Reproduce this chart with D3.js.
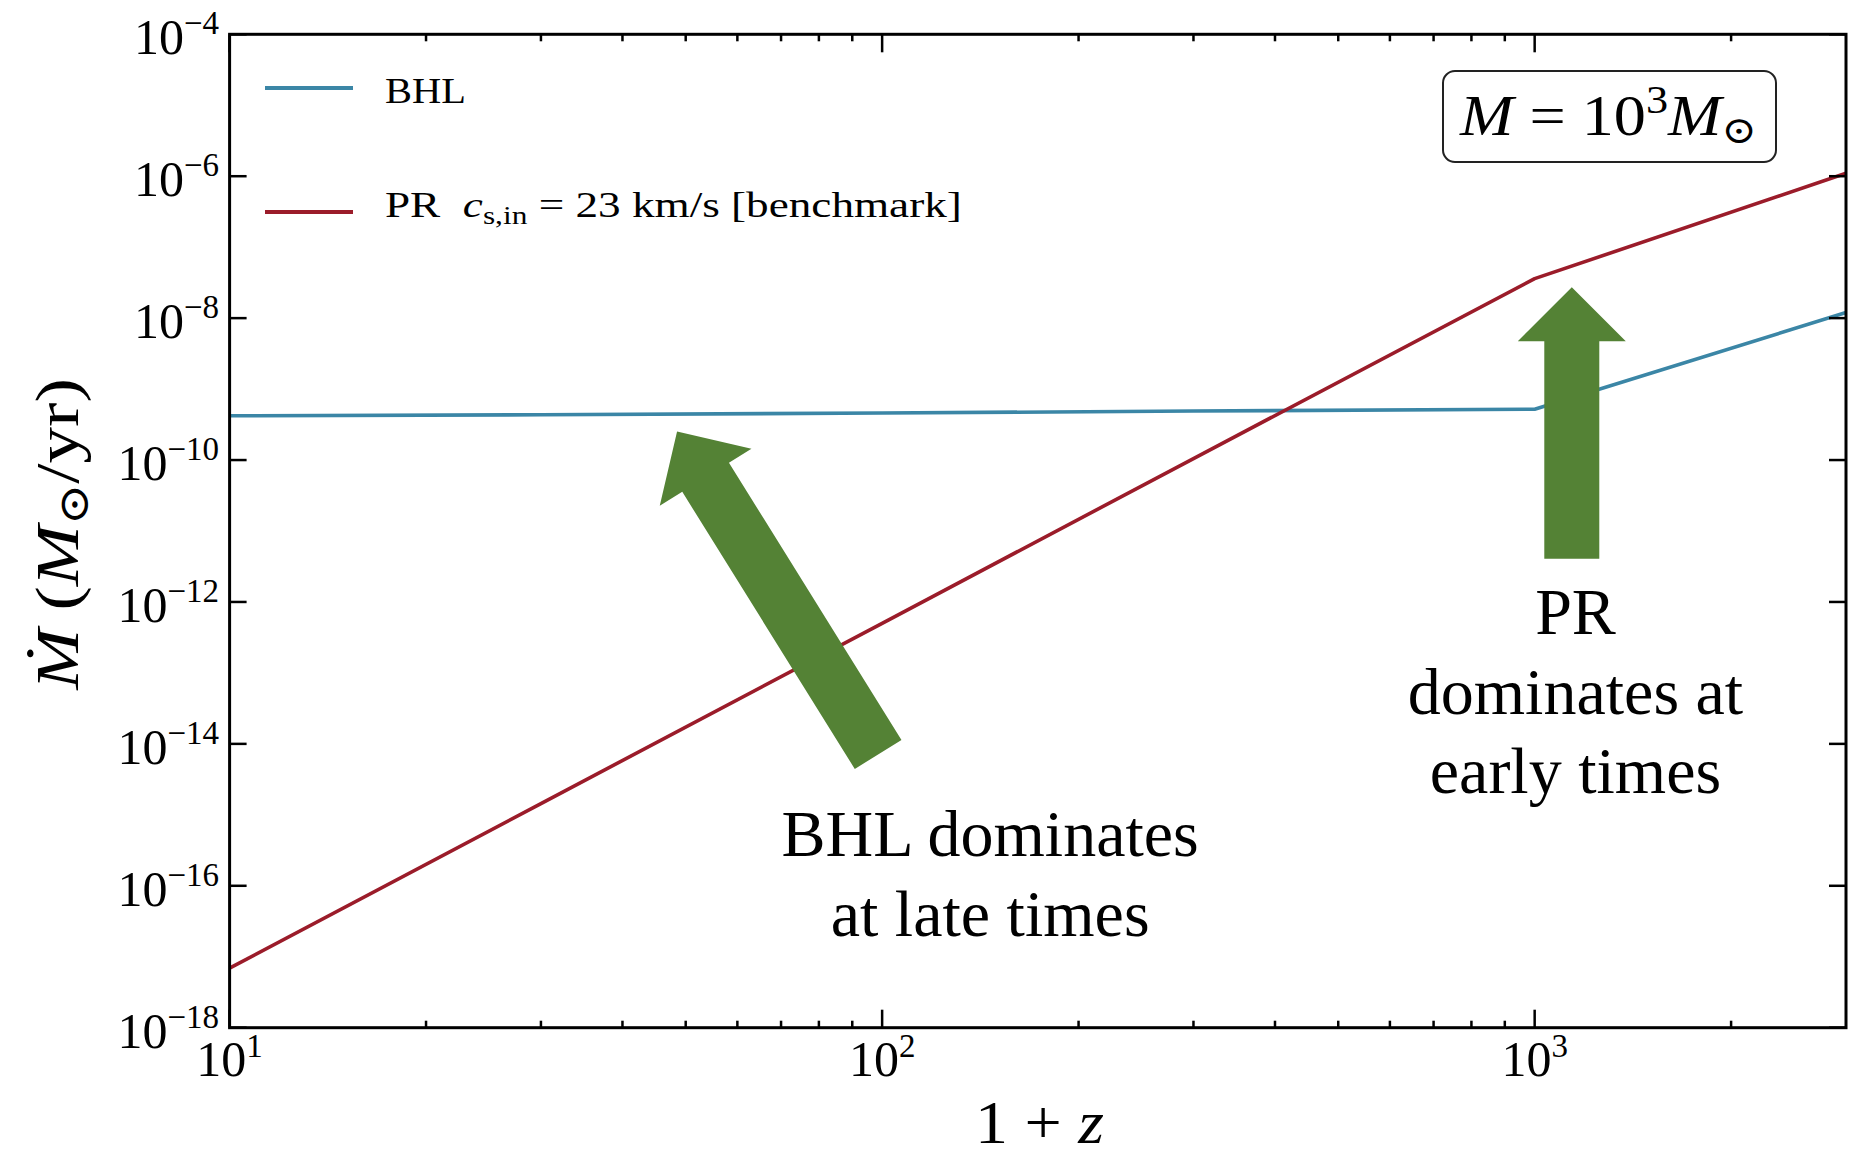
<!DOCTYPE html>
<html>
<head>
<meta charset="utf-8">
<script src="https://cdn.jsdelivr.net/npm/d3@7"></script>
<style>
  html, body { margin: 0; padding: 0; background: #ffffff; }
  svg { display: block; }
  text { font-family: "Liberation Serif", "DejaVu Serif", serif; fill: #000; }
</style>
</head>
<body>
<svg id="chart" width="1857" height="1160"></svg>
<script>
// ---------------- data ----------------
const zPlus1   = [10, 30, 100, 300, 1000, 3000];
const bhlRate  = [4.2e-10, 4.35e-10, 4.6e-10, 4.9e-10, 5.2e-10, 1.2e-8];
const prRate   = [6.9e-18, 1.44e-15, 5.0e-13, 1.05e-10, 3.6e-8, 1.1e-6];
const seriesNames  = ["BHL", "PR"];
const seriesColors = ["#3b86a6", "#9b1c2a"];
const xDomain = [10, 3000];
const yDomain = [1e-18, 1e-4];
const xTickExponents = [1, 2, 3];
const yTickExponents = [-4, -6, -8, -10, -12, -14, -16, -18];
// annotation arrows: [tail x, tail y] -> [tip x, tip y] in data units
const arrowTails = [[98.6, 7.1e-15], [1140, 4.08e-12]];
const arrowTips  = [[48.5, 2.53e-10], [1140, 2.73e-8]];
const annotLines = [["BHL dominates", "at late times"], ["PR", "dominates at", "early times"]];
const annotAnchors = [[146.4, 2.6e-16], [1155, 3.53e-13]];

// ---------------- layout ----------------
const L = 229.6, R = 1846, T = 34.3, B = 1027.7;
const svg = d3.select("#chart");
const x = d3.scaleLog().domain(xDomain).range([L, R]);
const y = d3.scaleLog().domain(yDomain).range([B, T]);

function fit(sel, ax, target) {
  const w = sel.node().getBBox().width;
  const k = target / w;
  const prev = sel.attr("transform") || "";
  sel.attr("transform", `${prev} translate(${ax},0) scale(${k},1) translate(${-ax},0)`);
}

// ---------------- lines ----------------
const line = d3.line().x(d => x(d[0])).y(d => y(d[1]));
const seriesData = [bhlRate, prRate];
seriesData.forEach((vals, i) => {
  svg.append("path")
    .datum(zPlus1.map((z, j) => [z, vals[j]]))
    .attr("d", line)
    .attr("fill", "none")
    .attr("stroke", seriesColors[i])
    .attr("stroke-width", 3.6)
    .attr("stroke-linejoin", "round");
});

// ---------------- arrows ----------------
const shaftW = 55, headW = 108, headL = 54;
arrowTails.forEach((tail, i) => {
  const tx = x(tail[0]), ty = y(tail[1]);
  const px = x(arrowTips[i][0]), py = y(arrowTips[i][1]);
  const len = Math.hypot(px - tx, py - ty);
  const ux = (px - tx) / len, uy = (py - ty) / len;
  const nx = -uy, ny = ux;
  const bx = px - ux * headL, by = py - uy * headL;
  const pts = [
    [tx + nx * shaftW / 2, ty + ny * shaftW / 2],
    [bx + nx * shaftW / 2, by + ny * shaftW / 2],
    [bx + nx * headW / 2, by + ny * headW / 2],
    [px, py],
    [bx - nx * headW / 2, by - ny * headW / 2],
    [bx - nx * shaftW / 2, by - ny * shaftW / 2],
    [tx - nx * shaftW / 2, ty - ny * shaftW / 2]
  ];
  svg.append("polygon")
    .attr("points", pts.map(p => p.join(",")).join(" "))
    .attr("fill", "#548235");
});

// ---------------- annotation text ----------------
annotLines.forEach((lines, i) => {
  const cx = x(annotAnchors[i][0]), cy = y(annotAnchors[i][1]);
  lines.forEach((s, j) => {
    svg.append("text")
      .attr("x", cx).attr("y", cy + j * 79.5)
      .attr("text-anchor", "middle")
      .style("font-family", "'Liberation Serif', serif")
      .style("font-size", "66px")
      .text(s);
  });
});

// ---------------- axes frame & ticks ----------------
svg.append("rect")
  .attr("x", L).attr("y", T).attr("width", R - L).attr("height", B - T)
  .attr("fill", "none").attr("stroke", "#000").attr("stroke-width", 3);

const majorX = xTickExponents.map(e => Math.pow(10, e));
const minorX = x.ticks().filter(v => {
  const e = Math.log10(v);
  return Math.abs(e - Math.round(e)) > 1e-9 && v < xDomain[1];
});
const tickG = svg.append("g").attr("stroke", "#000").attr("stroke-width", 2.5);
majorX.forEach(v => {
  tickG.append("line").attr("x1", x(v)).attr("x2", x(v)).attr("y1", B).attr("y2", B - 18);
  tickG.append("line").attr("x1", x(v)).attr("x2", x(v)).attr("y1", T).attr("y2", T + 18);
});
minorX.forEach(v => {
  tickG.append("line").attr("x1", x(v)).attr("x2", x(v)).attr("y1", B).attr("y2", B - 7);
  tickG.append("line").attr("x1", x(v)).attr("x2", x(v)).attr("y1", T).attr("y2", T + 7);
});
yTickExponents.forEach(e => {
  const yy = y(Math.pow(10, e));
  tickG.append("line").attr("x1", L).attr("x2", L + 17).attr("y1", yy).attr("y2", yy);
  tickG.append("line").attr("x1", R).attr("x2", R - 17).attr("y1", yy).attr("y2", yy);
});

// tick labels
yTickExponents.forEach(e => {
  const yy = y(Math.pow(10, e));
  const t = svg.append("text")
    .attr("x", 219).attr("y", yy + 20)
    .attr("text-anchor", "end")
    .style("font-size", "50px");
  t.append("tspan").text("10");
  t.append("tspan").attr("dy", -20).style("font-size", "33px").text("\u2212" + Math.abs(e));
});
xTickExponents.forEach(e => {
  const xx = x(Math.pow(10, e));
  const t = svg.append("text")
    .attr("x", xx).attr("y", 1076)
    .attr("text-anchor", "middle")
    .style("font-size", "50px");
  t.append("tspan").text("10");
  t.append("tspan").attr("dy", -19).style("font-size", "33px").text(String(e));
});

// axis labels
const xl = svg.append("text")
  .attr("x", 1039.5).attr("y", 1143)
  .attr("text-anchor", "middle")
  .style("font-size", "62px");
xl.append("tspan").text("1 + ");
xl.append("tspan").style("font-style", "italic").text("z");
fit(xl, 1039.5, 129);

const ylG = svg.append("g").attr("transform", "translate(78,534) rotate(-90)");
const yl = ylG.append("text").attr("x", 0).attr("y", 0)
  .attr("text-anchor", "middle").style("font-size", "62px");
yl.append("tspan").style("font-style", "italic").text("M\u0307");
yl.append("tspan").text(" (");
yl.append("tspan").style("font-style", "italic").text("M");
yl.append("tspan").attr("dy", 10).style("font-size", "42px").text("\u2299");
yl.append("tspan").attr("dy", -10).text("/yr)");
fit(yl, 0, 313);

// ---------------- legend ----------------
const legendY = [88, 212];
const legendBase = [103, 217];
seriesNames.forEach((name, i) => {
  svg.append("line")
    .attr("x1", 265).attr("x2", 353)
    .attr("y1", legendY[i]).attr("y2", legendY[i])
    .attr("stroke", seriesColors[i]).attr("stroke-width", 4);
});
const lg1 = svg.append("text").attr("x", 385).attr("y", legendBase[0])
  .style("font-size", "36px").text(seriesNames[0]);
fit(lg1, 385, 81);
const lg2 = svg.append("text").attr("x", 385).attr("y", legendBase[1])
  .style("font-size", "36px");
lg2.append("tspan").text(seriesNames[1] + "\u00a0\u00a0");
lg2.append("tspan").style("font-style", "italic").text("c");
lg2.append("tspan").attr("dy", 7).style("font-size", "25px").text("s,in");
lg2.append("tspan").attr("dy", -7).text(" = 23 km/s [benchmark]");
fit(lg2, 385, 577);

// ---------------- mass box ----------------
svg.append("rect")
  .attr("x", 1443).attr("y", 71).attr("width", 333).attr("height", 91)
  .attr("rx", 12).attr("ry", 12)
  .attr("fill", "#fff").attr("stroke", "#222").attr("stroke-width", 2);
const mb = svg.append("text").attr("x", 1460).attr("y", 135)
  .style("font-size", "58px");
mb.append("tspan").style("font-style", "italic").text("M");
mb.append("tspan").text(" = 10");
mb.append("tspan").attr("dy", -22).style("font-size", "40px").text("3");
mb.append("tspan").attr("dy", 22).style("font-style", "italic").text("M");
mb.append("tspan").attr("dy", 8).style("font-size", "38px").text("\u2299");
fit(mb, 1460, 298);
</script>
</body>
</html>
